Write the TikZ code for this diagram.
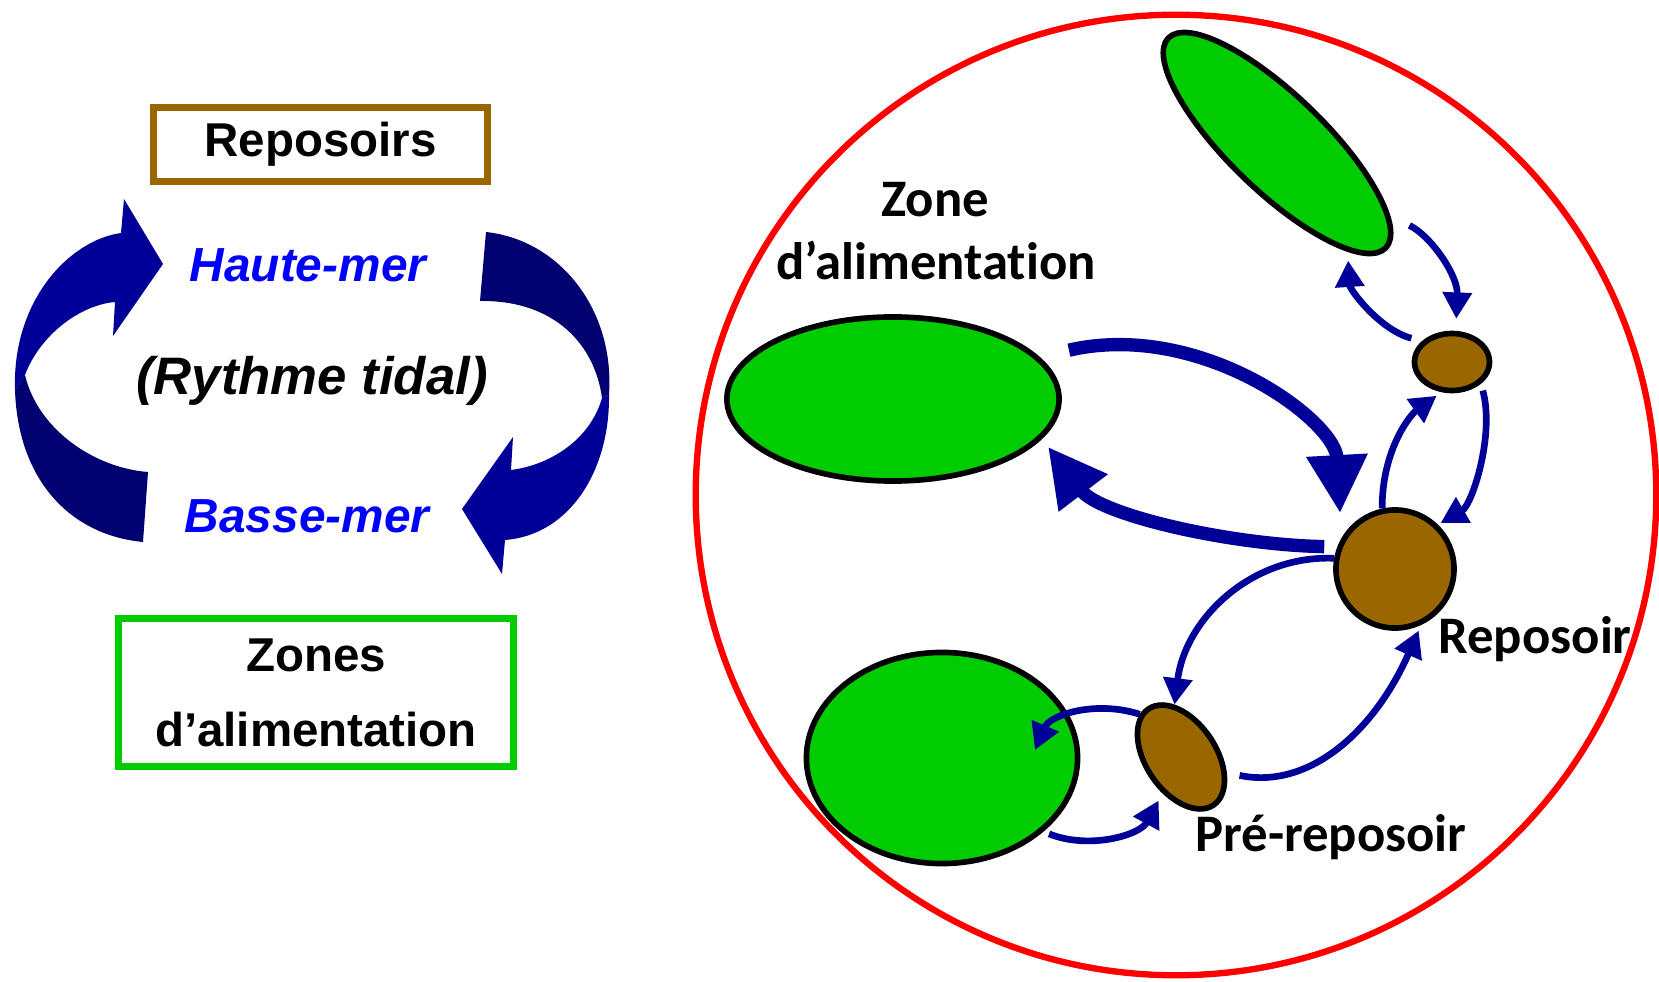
\documentclass[tikz,border=0pt]{standalone}
\usepackage{fontspec}
\setmainfont{Liberation Sans}
\newfontfamily\labelfont[Ligatures=NoCommon]{Carlito}
\usetikzlibrary{arrows.meta,shapes.geometric}

\definecolor{zonegreen}{HTML}{00CC00}
\definecolor{restbrown}{HTML}{996600}
\definecolor{flownavy}{HTML}{000099}
\definecolor{tidedark}{HTML}{000070}
\definecolor{tideblue}{HTML}{0000FF}

\begin{document}
\begin{tikzpicture}[x=0.01cm,y=-0.01cm,
  zone/.style={ellipse, draw, line width=1.6pt, fill=zonegreen, inner sep=0pt},
  rest/.style={ellipse, draw, line width=1.6pt, fill=restbrown, inner sep=0pt},
  flow/.style={color=flownavy, line width=1.9pt, -{Triangle[length=7.5pt,width=8pt]}},
  bigflow/.style={color=flownavy, line width=3.8pt, -{Triangle[length=16.5pt,width=16.5pt]}},
  title/.style={font=\fontsize{13.5}{16}\selectfont\bfseries},
  place/.style={anchor=base, font=\labelfont\fontsize{15}{18}\selectfont\bfseries}]
\useasboundingbox (0,0) rectangle (1659,982);

% left side: tide cycle
\node[title, draw=restbrown, line width=2pt, minimum width=3.34cm, minimum height=0.74cm] (reposoirs) at (320.5,144.5) {Reposoirs};
\node[title, draw=zonegreen, line width=2pt, minimum width=3.95cm, minimum height=1.48cm, align=center,
  font=\fontsize{13.5}{21.3}\selectfont\bfseries] (zones) at (316,692.5) {Zones\\d’alimentation};
\node[title, anchor=base, text=tideblue, font=\fontsize{13.6}{16}\selectfont\bfseries\itshape] (haute) at (308,282) {Haute-mer};
\node[title, anchor=base, text=tideblue, font=\fontsize{13.6}{16}\selectfont\bfseries\itshape] (basse) at (307,533) {Basse-mer};
\node[title, anchor=base, font=\fontsize{15}{18}\selectfont\bfseries\itshape] (rythme) at (312,395) {(Rythme tidal)};

\fill[tidedark] (143,542) .. controls (70,535) and (18,480) .. (15,390) -- (25,375)
  .. controls (38,430) and (95,468) .. (148,472) -- cycle;
\fill[flownavy] (15,390) .. controls (12,300) and (70,240) .. (121,233) -- (124,199) -- (163,264)
  -- (113,336) -- (115,302) .. controls (80,305) and (40,335) .. (25,375) -- cycle;
\fill[tidedark] (486,232) .. controls (560,240) and (615,310) .. (609,395) -- (602,398)
  .. controls (595,345) and (555,300) .. (480,301) -- cycle;
\fill[flownavy] (609,395) .. controls (610,470) and (570,535) .. (505,540) -- (502,574) -- (462,509)
  -- (513,437) -- (511,470) .. controls (550,465) and (590,440) .. (602,398) -- cycle;

% right side: site
\draw[red, line width=1.8pt] (1176,495) circle[radius=4.8cm];

\node[zone, minimum width=3.02cm, minimum height=0.96cm, rotate=-44] (topzone) at (1277,143) {};
\node[zone, minimum width=3.32cm, minimum height=1.64cm] (midzone) at (893,399) {};
\node[zone, minimum width=2.71cm, minimum height=2.11cm] (lowzone) at (942,758) {};
\node[rest, minimum width=0.75cm, minimum height=0.57cm] (smallrep) at (1452,362) {};
\node[rest, circle, minimum size=1.18cm] (repo) at (1395,569) {};
\node[rest, minimum width=1.16cm, minimum height=0.70cm, rotate=-56] (prerepo) at (1181,757) {};
\coordinate (lowtip) at (1035,750);

\node[place] (zonelbl) at (935,217) {Zone};
\node[place] (alimlbl) at (936,280) {d’alimentation};
\node[place] (repolbl) at (1535,653) {Reposoir};
\node[place] (prelbl) at (1331,852) {Pré-reposoir};

\draw[bigflow, shorten <=0.3cm, shorten >=0.25cm] (midzone.16) .. controls (1200,320) and (1335,420) .. (repo.150);
\draw[bigflow, shorten <=0.13cm, shorten >=0.1cm] (repo.159) .. controls (1230,545) and (1100,515) .. (midzone.-15);
\draw[flow, shorten <=0.21cm, shorten >=0.12cm] (topzone.11) .. controls (1430,235) and (1458,275) .. (smallrep.83);
\draw[flow, shorten <=0.11cm, shorten >=0.09cm] (smallrep.145) .. controls (1380,330) and (1350,290) .. (topzone.-13);
\draw[flow, shorten >=0.06cm] (repo.102) .. controls (1382,450) and (1410,415) .. (smallrep.251);
\draw[flow, shorten <=0.07cm, shorten >=0.03cm] (smallrep.-37) .. controls (1495,435) and (1472,505) .. (repo.46);
\draw[flow] (repo.170) .. controls (1250,555) and (1185,620) .. (prerepo.153);
\draw[flow] (prerepo.190) .. controls (1095,700) and (1050,715) .. (lowtip);
\draw[flow, shorten <=0.06cm, shorten >=0.08cm] (lowzone.-36) .. controls (1090,850) and (1140,835) .. (prerepo.-61);
\draw[flow, shorten <=0.13cm, shorten >=0.06cm] (prerepo.37) .. controls (1310,790) and (1375,730) .. (repo.-65);
\end{tikzpicture}
\end{document}
